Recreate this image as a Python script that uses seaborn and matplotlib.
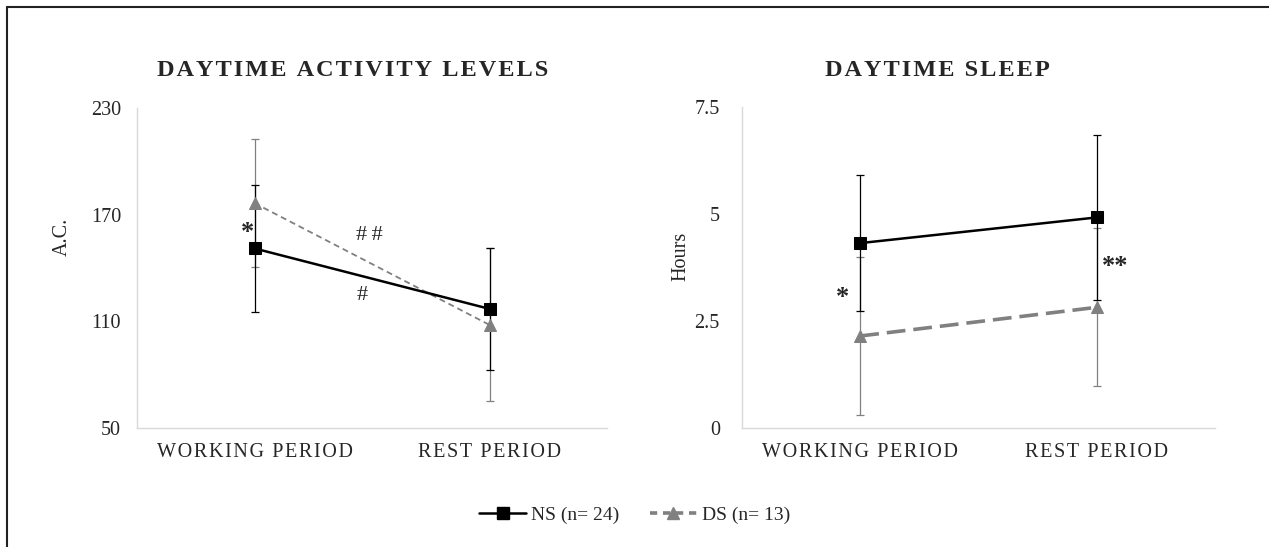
import matplotlib
matplotlib.use("Agg")
import matplotlib.pyplot as plt
from matplotlib.lines import Line2D
import seaborn as sns
import pandas as pd

# ---- data ----
periods = ["WORKING PERIOD", "REST PERIOD"]
groups = ["NS (n= 24)", "DS (n= 13)"]

act_ns = [151.0, 117.0]
act_ns_err = [35.5, 34.5]
act_ds = [176.5, 108.0]
act_ds_err = [36.0, 43.0]

sleep_ns = [4.32, 4.92]
sleep_ns_err = [1.58, 1.93]
sleep_ds = [2.15, 2.82]
sleep_ds_err = [1.84, 1.85]

act_ticks = [50, 110, 170, 230]
sleep_ticks = [0, 2.5, 5, 7.5]
sleep_tick_labels = ["0", "2.5", "5", "7.5"]

titles = ["DAYTIME ACTIVITY LEVELS", "DAYTIME SLEEP"]
ylabels = ["A.C.", "Hours"]

sns.set_style("white")
SERIF = ["Liberation Serif", "DejaVu Serif"]
plt.rcParams["font.family"] = SERIF

HS = "\u200a"
def spaced(s):
    return HS.join(list(s))

W, H = 1269, 547
fig = plt.figure(figsize=(W / 100, H / 100), dpi=100)

def px_ax(x0, y0, x1, y1):
    return fig.add_axes([x0 / W, 1 - y1 / H, (x1 - x0) / W, (y1 - y0) / H])

ax1 = px_ax(137, 108, 607, 428)
ax2 = px_ax(742, 107, 1215, 428)

BLACK = "#000000"
GRAY = "#808080"

def draw(ax, ns, ns_err, ds, ds_err, ds_lw, ds_dash, ypad):
    df_ns = pd.DataFrame({"period": periods, "value": ns})
    df_ds = pd.DataFrame({"period": periods, "value": ds})
    ax.errorbar(periods, ds, yerr=ds_err, fmt="none", ecolor=GRAY,
                elinewidth=0.9, capsize=3, capthick=0.9, zorder=1)
    ax.errorbar(periods, ns, yerr=ns_err, fmt="none", ecolor=BLACK,
                elinewidth=0.9, capsize=3, capthick=0.9, zorder=1.2)
    sns.lineplot(data=df_ds, x="period", y="value", ax=ax, color=GRAY,
                 marker="^", markersize=9, markeredgecolor=GRAY,
                 markerfacecolor=GRAY, linewidth=ds_lw,
                 linestyle=(0, ds_dash), zorder=3, sort=False)
    sns.lineplot(data=df_ns, x="period", y="value", ax=ax, color=BLACK,
                 marker="s", markersize=8, markeredgecolor=BLACK,
                 markerfacecolor=BLACK, linewidth=1.8, zorder=4, sort=False)
    ax.set_xlim(-0.5, 1.5)
    ax.set_xlabel("")
    ax.set_ylabel("")
    for s in ["top", "right"]:
        ax.spines[s].set_visible(False)
    for s in ["left", "bottom"]:
        ax.spines[s].set_color("#d9d9d9")
        ax.spines[s].set_linewidth(1.0)
    ax.tick_params(axis="both", length=0)
    ax.tick_params(axis="y", pad=ypad, labelsize=14.5)
    ax.tick_params(axis="x", pad=11, labelsize=14.5)
    ax.set_xticks([0, 1])
    ax.set_xticklabels([spaced(p) for p in periods])
    ax.grid(False)

draw(ax1, act_ns, act_ns_err, act_ds, act_ds_err, 1.3, (3.3, 2.2), 11.5)
ax1.set_ylim(act_ticks[0], act_ticks[-1])
ax1.set_yticks(act_ticks)

draw(ax2, sleep_ns, sleep_ns_err, sleep_ds, sleep_ds_err, 2.6, (5.2, 2.2), 16)
ax2.set_ylim(sleep_ticks[0], sleep_ticks[-1])
ax2.set_yticks(sleep_ticks)
ax2.set_yticklabels(sleep_tick_labels)

# significance marks
ax1.text(-0.03, 160, "*", fontsize=19, fontweight="bold", ha="center", va="center")
ax1.text(0.49, 158.5, "#\u2009#", fontsize=16, ha="center", va="center")
ax1.text(0.46, 124.8, "#", fontsize=16, ha="center", va="center")
ax2.text(-0.076, 3.05, "*", fontsize=19, fontweight="bold", ha="center", va="center")
ax2.text(1.076, 3.78, "**", fontsize=19, fontweight="bold", ha="center", va="center")

# titles
fig.text(353 / W, 1 - 70 / H, spaced(titles[0]), fontsize=17.5, fontweight="bold",
         ha="center", va="center")
fig.text(937 / W, 1 - 70 / H, spaced(titles[1]), fontsize=17.5, fontweight="bold",
         ha="center", va="center")

# y labels
fig.text(62 / W, 1 - 237 / H, ylabels[0], fontsize=14.5, rotation=90,
         ha="center", va="center")
fig.text(681 / W, 1 - 256 / H, ylabels[1], fontsize=14.5, rotation=90,
         ha="center", va="center")

# legend
handles = [
    Line2D([], [], color=BLACK, lw=1.8, marker="s", markersize=8),
    Line2D([], [], color=GRAY, lw=2.6, linestyle=(0, (2.0, 1.6)), marker="^",
           markersize=9),
]
fig.legend(handles, groups, loc="center", bbox_to_anchor=(0.5, 1 - 515 / H),
           ncol=2, frameon=False, fontsize=14, handlelength=2.4,
           columnspacing=1.6, handletextpad=0.25)

# frame lines (top and left)
fig.add_artist(Line2D([7 / W, 7 / W], [0, 1 - 7 / H], color="#222222", lw=1.5,
                      transform=fig.transFigure))
fig.add_artist(Line2D([7 / W, 1], [1 - 7 / H, 1 - 7 / H], color="#222222", lw=1.5,
                      transform=fig.transFigure))

fig.savefig("out.png", dpi=100)
